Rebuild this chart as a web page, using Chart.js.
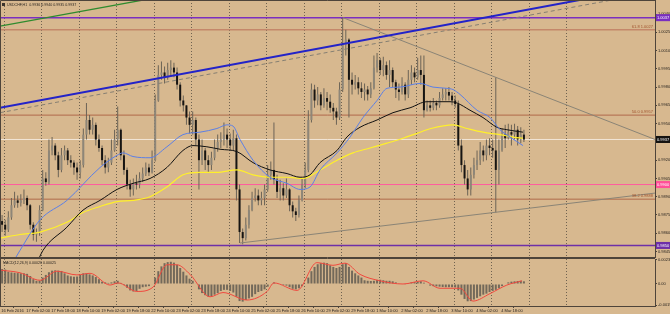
<!DOCTYPE html>
<html>
<head>
<meta charset="utf-8">
<title>USDCHF H1</title>
<script src="https://cdn.jsdelivr.net/npm/chart.js@4.4.1/dist/chart.umd.min.js"></script>
<style>
  html, body { margin: 0; padding: 0; background: #D7B88F; }
  #wrap { position: relative; width: 670px; height: 314px; overflow: hidden; }
  #wrap canvas { position: absolute; left: 0; }
  #priceChart { top: 0; }
  #macdChart { top: 256px; }
</style>
</head>
<body>
<div id="wrap">
  <canvas id="priceChart" width="670" height="258"></canvas>
  <canvas id="macdChart" width="670" height="58"></canvas>
</div>
<script>
// ---- values ----
// x unit = H1 bar index (0 = 16 Feb 10:00); each candle below covers two H1 bars
const firstOpen = 0.9870;
const barHours = 2;

const closes = [
  0.9867,0.9863,0.9873,0.9883,0.9887,0.9885,0.9887,0.9889,0.9883,0.9867,
  0.9859,0.9861,0.9879,0.9905,0.9902,0.9928,0.9932,0.9924,0.9912,0.9924,
  0.9928,0.9920,0.9918,0.9914,0.9910,0.9916,0.9941,0.9953,0.9945,0.9949,
  0.9937,0.9930,0.9920,0.9914,0.9918,0.9928,0.9937,0.9945,0.9924,0.9912,
  0.9900,0.9896,0.9901,0.9900,0.9905,0.9909,0.9914,0.9910,0.9920,0.9969,
  0.9990,0.9992,0.9988,0.9994,0.9996,0.9992,0.9982,0.9969,0.9965,0.9955,
  0.9949,0.9953,0.9937,0.9920,0.9928,0.9920,0.9916,0.9922,0.9930,0.9935,
  0.9937,0.9941,0.9937,0.9932,0.9938,0.9896,0.9861,0.9856,0.9867,0.9879,
  0.9889,0.9891,0.9887,0.9889,0.9896,0.9908,0.9912,0.9904,0.9894,0.9897,
  0.9891,0.9896,0.9883,0.9878,0.9875,0.9887,0.9900,0.9912,0.9953,0.9978,
  0.9969,0.9974,0.9965,0.9971,0.9968,0.9963,0.9960,0.9955,0.9978,1.0015,
  1.0019,0.9986,0.9982,0.9984,0.9979,0.9976,0.9978,0.9974,0.9979,0.9996,
  1.0002,0.9994,0.9998,0.9990,0.9994,0.9984,0.9978,0.9976,0.9982,0.9974,
  0.9986,0.9992,0.9988,0.9994,0.9990,0.9961,0.9965,0.9963,0.9967,0.9965,
  0.9971,0.9974,0.9976,0.9973,0.9969,0.9966,0.9932,0.9916,0.9905,0.9896,
  0.9908,0.9916,0.9920,0.9928,0.9924,0.9932,0.9930,0.9928,0.9912,0.9928,
  0.9941,0.9938,0.9943,0.9941,0.9945,0.9937,0.9941,0.9937
];
const highs = [
  0.9875,0.9871,0.9878,0.9889,0.9894,0.9891,0.9892,0.9896,0.9891,0.9884,
  0.9869,0.9864,0.9883,0.9912,0.9910,0.9937,0.9939,0.9934,0.9927,0.9930,
  0.9932,0.9930,0.9924,0.9920,0.9918,0.9920,0.9946,0.9967,0.9957,0.9955,
  0.9951,0.9941,0.9932,0.9924,0.9922,0.9937,0.9945,0.9964,0.9946,0.9928,
  0.9914,0.9904,0.9905,0.9908,0.9910,0.9914,0.9918,0.9917,0.9928,0.9974,
  0.9998,1.0001,0.9997,1.0000,1.0002,1.0000,0.9996,0.9984,0.9973,0.9965,
  0.9960,0.9960,0.9955,0.9941,0.9937,0.9930,0.9924,0.9927,0.9937,0.9941,
  0.9943,0.9951,0.9946,0.9942,0.9945,0.9941,0.9900,0.9864,0.9873,0.9883,
  0.9894,0.9897,0.9896,0.9894,0.9900,0.9916,0.9919,0.9951,0.9908,0.9904,
  0.9901,0.9905,0.9897,0.9886,0.9881,0.9891,0.9905,0.9918,0.9961,0.9983,
  0.9982,0.9980,0.9976,0.9979,0.9976,0.9974,0.9967,0.9963,0.9984,1.0037,
  1.0027,1.0020,0.9992,0.9990,0.9988,0.9984,0.9983,0.9981,0.9984,1.0006,
  1.0008,1.0004,1.0005,1.0001,1.0002,0.9996,0.9986,0.9983,0.9988,0.9984,
  0.9994,0.9998,0.9996,1.0004,1.0006,1.0006,0.9969,0.9969,0.9971,0.9969,
  0.9976,0.9979,0.9979,0.9980,0.9976,0.9973,0.9969,0.9937,0.9920,0.9912,
  0.9914,0.9922,0.9928,0.9935,0.9932,0.9937,0.9938,0.9937,0.9988,0.9937,
  0.9946,0.9949,0.9950,0.9949,0.9950,0.9948,0.9947,0.9945
];
const lows = [
  0.9861,0.9858,0.9861,0.9871,0.9881,0.9881,0.9882,0.9884,0.9879,0.9863,
  0.9854,0.9853,0.9858,0.9878,0.9899,0.9900,0.9924,0.9920,0.9906,0.9910,
  0.9920,0.9916,0.9914,0.9908,0.9904,0.9905,0.9914,0.9937,0.9941,0.9941,
  0.9932,0.9927,0.9916,0.9909,0.9910,0.9916,0.9927,0.9932,0.9920,0.9908,
  0.9896,0.9890,0.9891,0.9896,0.9897,0.9902,0.9907,0.9907,0.9909,0.9919,
  0.9968,0.9986,0.9983,0.9986,0.9989,0.9988,0.9978,0.9964,0.9960,0.9949,
  0.9942,0.9941,0.9932,0.9896,0.9916,0.9912,0.9910,0.9912,0.9920,0.9927,
  0.9930,0.9932,0.9930,0.9928,0.9928,0.9887,0.9852,0.9851,0.9854,0.9864,
  0.9878,0.9886,0.9883,0.9883,0.9883,0.9894,0.9904,0.9900,0.9889,0.9887,
  0.9887,0.9889,0.9878,0.9873,0.9870,0.9873,0.9886,0.9897,0.9910,0.9951,
  0.9963,0.9965,0.9961,0.9963,0.9961,0.9959,0.9953,0.9949,0.9953,0.9976,
  1.0006,0.9955,0.9974,0.9978,0.9974,0.9971,0.9969,0.9969,0.9971,0.9978,
  0.9992,0.9990,0.9989,0.9986,0.9980,0.9980,0.9971,0.9969,0.9974,0.9969,
  0.9971,0.9982,0.9984,0.9986,0.9982,0.9955,0.9960,0.9960,0.9961,0.9961,
  0.9963,0.9969,0.9969,0.9969,0.9965,0.9963,0.9928,0.9910,0.9900,0.9891,
  0.9891,0.9905,0.9912,0.9916,0.9919,0.9920,0.9924,0.9922,0.9877,0.9900,
  0.9927,0.9930,0.9937,0.9932,0.9937,0.9932,0.9934,0.9935
];

// moving averages, [bar, price]
const maBlue = [[5.6,0.9832],[12,0.9846],[24.8,0.9871],[42,0.9887],[63.2,0.9914],[74.1,0.9924],[77.9,0.9926],[84.3,0.9923],[95.2,0.9922],[106,0.9931],[116.3,0.9941],[127.2,0.9943],[138,0.9946],[144.4,0.9949],[148.3,0.9948],[152.8,0.9937],[161.1,0.9920],[172,0.9906],[182.9,0.9901],[191.2,0.9896],[197.6,0.9898],[204,0.9912],[214.9,0.9926],[223.2,0.9939],[231.5,0.9955],[240.5,0.9969],[246.9,0.9979],[255.2,0.9980],[268,0.9983],[276.3,0.9980],[285.2,0.9979],[289.1,0.9978],[293.6,0.9974],[304.5,0.9961],[312.8,0.9955],[319.2,0.9945],[325.6,0.9939],[333.9,0.9932]];
const maBlack = [[21.6,0.9832],[26.7,0.9846],[42,0.9865],[52.3,0.9879],[63.2,0.9887],[74.1,0.9896],[84.3,0.9901],[95.2,0.9905],[106,0.9914],[116.3,0.9928],[122.7,0.9932],[131.6,0.9931],[140,0.9929],[150.9,0.9927],[161.1,0.9918],[172,0.9912],[182.9,0.9909],[191.2,0.9906],[197.6,0.9908],[204,0.9918],[214.9,0.9928],[221.2,0.9939],[229.6,0.9947],[240.5,0.9953],[250.7,0.9959],[261.6,0.9963],[272.4,0.9968],[287.2,0.9968],[291.6,0.9967],[300,0.9961],[308.3,0.9955],[317.2,0.9947],[323.6,0.9945],[333.9,0.9943]];
const maYellow = [[-0.8,0.9856],[12,0.9859],[24.8,0.9861],[42,0.9869],[52.3,0.9877],[63.2,0.9882],[74.1,0.9886],[84.3,0.9887],[95.2,0.9890],[106,0.9898],[116.3,0.9908],[127.2,0.9910],[138,0.9910],[150.9,0.9912],[161.1,0.9908],[172,0.9906],[182.9,0.9906],[193.1,0.9905],[204,0.9912],[214.9,0.9920],[225.1,0.9926],[236,0.9930],[246.9,0.9934],[257.1,0.9938],[266,0.9942],[275,0.9946],[289.1,0.9949],[298.1,0.9946],[308.3,0.9943],[319.2,0.9941],[327.5,0.9939],[333.9,0.9938]];

// horizontal objects
const levelPrices = [1.0037, 1.0027, 0.9957, 0.9937, 0.9900, 0.9888, 0.9850];
const fibNames = ["", "61.8", "50.0", "", "", "38.2", ""];

// trend lines, [bar, price] end points
const trendBlue = [[-0.83, 0.9963], [418.4, 1.0063]];
const trendDashed = [[-0.83, 0.9959], [418.4, 1.0058]];
const trendGreen = [[-0.83, 1.0030], [127.2, 1.0060]];
const trendUpper = [[218.7, 1.0037], [418.4, 0.9937]];
const trendLower = [[152.8, 0.9852], [418.4, 0.9893]];

const priceTicks = [1.0040, 1.0025, 1.0010, 0.9995, 0.9980, 0.9965, 0.9950, 0.9935, 0.9920, 0.9905, 0.9890, 0.9875, 0.9860, 0.9845];

const timeLabels = ["16 Feb 2016", "17 Feb 02:00", "17 Feb 18:00", "18 Feb 10:00", "19 Feb 02:00", "19 Feb 18:00",
  "22 Feb 10:00", "23 Feb 02:00", "23 Feb 18:00", "24 Feb 10:00", "25 Feb 02:00", "25 Feb 18:00",
  "26 Feb 10:00", "29 Feb 02:00", "29 Feb 18:00", "1 Mar 10:00", "2 Mar 02:00", "2 Mar 18:00",
  "3 Mar 10:00", "4 Mar 02:00", "4 Mar 18:00"];
const labelStep = 16;
const dayStarts = [14, 38, 62, 86, 110, 134, 158, 182, 206, 230, 254, 278, 302, 326, 350];

// MACD(12,26,9), one value per candle above
const macdHist = [
  0.00140,0.00135,0.00115,0.00108,0.00105,0.00102,0.00100,0.00100,0.00095,0.00075,
  0.00045,0.00030,0.00032,0.00060,0.00085,0.00110,0.00125,0.00128,0.00125,0.00122,
  0.00100,0.00080,0.00072,0.00068,0.00070,0.00085,0.00100,0.00100,0.00090,0.00080,
  0.00065,0.00045,0.00022,0.00015,0.00010,0.00015,0.00025,0.00030,0.00010,-0.00010,
  -0.00035,-0.00060,-0.00070,-0.00065,-0.00045,-0.00030,-0.00025,-0.00020,-0.00005,0.00060,
  0.00120,0.00165,0.00195,0.00205,0.00208,0.00200,0.00180,0.00150,0.00115,0.00080,
  0.00050,0.00030,0.00005,-0.00050,-0.00085,-0.00105,-0.00118,-0.00115,-0.00100,-0.00085,
  -0.00065,-0.00055,-0.00055,-0.00065,-0.00080,-0.00120,-0.00160,-0.00165,-0.00150,-0.00135,
  -0.00120,-0.00095,-0.00075,-0.00065,-0.00050,-0.00025,-0.00005,0.00015,0.00005,-0.00005,
  -0.00010,-0.00015,-0.00030,-0.00045,-0.00050,-0.00040,-0.00020,0.00005,0.00060,0.00120,
  0.00160,0.00185,0.00195,0.00200,0.00195,0.00175,0.00160,0.00150,0.00160,0.00185,
  0.00195,0.00160,0.00125,0.00100,0.00080,0.00060,0.00035,0.00030,0.00028,0.00030,
  0.00038,0.00040,0.00035,0.00030,0.00030,0.00025,0.00015,0.00005,0.00000,-0.00003,
  0.00008,0.00015,0.00018,0.00022,0.00025,0.00012,-0.00005,-0.00015,-0.00020,-0.00022,
  -0.00025,-0.00028,-0.00030,-0.00030,-0.00030,-0.00032,-0.00060,-0.00100,-0.00140,-0.00162,
  -0.00160,-0.00145,-0.00130,-0.00115,-0.00100,-0.00090,-0.00075,-0.00065,-0.00055,-0.00040,
  -0.00020,0.00005,0.00015,0.00022,0.00025,0.00028,0.00030,0.00025
];
const macdSignal = [[-0.8,0.00130],[12,0.00105],[24.8,0.00035],[35.6,0.00120],[48.4,0.00085],[56.8,0.00100],[69.6,-0.00010],[74.7,0.00010],[86.8,-0.00070],[97.1,-0.00030],[106,0.00180],[112.4,0.00180],[120.8,0.00090],[133.6,-0.00120],[141.9,-0.00080],[157.2,-0.00150],[170.1,-0.00070],[174.5,0.00010],[189.3,-0.00060],[202,0.00200],[212.3,0.00175],[220,0.00195],[229.6,0.00090],[242.4,0.00030],[257.1,0.00000],[269.9,0.00030],[280.8,-0.00040],[293.6,-0.00040],[301.9,-0.00160],[312.8,-0.00090],[323.6,-0.00010],[333.3,0.00030]];
const macdTicks = [0.0023, 0, -0.00199];
const macdTickLabels = ["0.00230", "0.00", "-0.00199"];

document.addEventListener("DOMContentLoaded", function () {
    const xMin = -0.83, xMax = 418.4;
    const priceMin = 0.98397, priceMax = 1.00515;
    const macdMin = -0.00206, macdMax = 0.00234;

    const textColor = "#2a2520";
    const frameColor = "#4e443a";
    const gridColor = "#6f6250";
    const smallFont = { family: "Liberation Sans, Arial, sans-serif", size: 4 };

    Chart.defaults.font.family = smallFont.family;

    const toPoints = arr => arr.map(p => ({ x: p[0], y: p[1] }));
    const barX = i => i * barHours + 0.5;
    const opens = closes.map((c, i) => (i === 0 ? firstOpen : closes[i - 1]));

    const lineSet = (pts, color, width, order, extra) => Object.assign({
        type: "line",
        data: toPoints(pts),
        borderColor: color,
        borderWidth: width,
        pointRadius: 0,
        order: order
    }, extra || {});

    // Horizontal levels
    const levelColors = ["#7A2FC0", "#C4876A", "#B0694A", "#F2E6D6", "#FF5A9E", "#B0694A", "#6E2FA8"];
    const levelWidths = [1.5, 1.5, 1, 1, 1, 1, 1.5];
    const levelSets = levelPrices.map((v, i) =>
        lineSet([[xMin, v], [xMax, v]], levelColors[i], levelWidths[i], 50));

    const hideAxisPadding = s => { s.paddingLeft = 0; s.paddingRight = 0; s.paddingTop = 0; s.paddingBottom = 0; };

    // Right-side labels, fib texts, frame, header
    const priceDecor = {
        id: "priceDecor",
        afterDraw(chart) {
            const { ctx, chartArea: a } = chart;
            const y = chart.scales.y;
            ctx.save();
            ctx.strokeStyle = frameColor;
            ctx.lineWidth = 1;
            ctx.beginPath();
            ctx.moveTo(a.left + 0.5, a.bottom);
            ctx.lineTo(a.left + 0.5, a.top + 0.5);
            ctx.lineTo(a.right, a.top + 0.5);
            ctx.moveTo(a.left, a.bottom - 0.5);
            ctx.lineTo(a.right, a.bottom - 0.5);
            ctx.stroke();

            ctx.font = "4px " + smallFont.family;
            ctx.textAlign = "right";
            ctx.textBaseline = "bottom";
            ctx.fillStyle = "#A0522D";
            levelPrices.forEach((v, i) => {
                if (!fibNames[i]) return;
                ctx.fillText(fibNames[i] + " " + v.toFixed(4), a.right - 2, y.getPixelForValue(v) - 1);
            });

            const boxes = [[0, "#7A2FC0"], [3, "#141210"], [4, "#FF4F98"], [6, "#6E2FA8"]];
            ctx.textAlign = "left";
            ctx.textBaseline = "middle";
            boxes.forEach(([i, col]) => {
                const py = y.getPixelForValue(levelPrices[i]);
                ctx.fillStyle = col;
                ctx.fillRect(a.right + 1, py - 3.5, 14, 7);
                ctx.fillStyle = "#ffffff";
                ctx.fillText(levelPrices[i].toFixed(4), a.right + 2, py);
            });

            ctx.fillStyle = "#3b342d";
            ctx.fillRect(2, 3, 3, 3);
            ctx.fillStyle = textColor;
            ctx.font = "3.6px " + smallFont.family;
            ctx.fillText("USDCHF,H1  0.9936 0.9940 0.9935 0.9937", 7, 4.8);
            ctx.restore();
        }
    };

    new Chart(document.getElementById("priceChart").getContext("2d"), {
        type: "bar",
        data: {
            datasets: [
                ...levelSets,
                {
                    type: "bar", order: 40, grouped: false, barThickness: 1, inflateAmount: 0,
                    data: highs.map((h, i) => ({ x: barX(i), y: [lows[i], h] })),
                    backgroundColor: "#6b6356"
                },
                {
                    type: "bar", order: 39, grouped: false, barThickness: 2, minBarLength: 1, inflateAmount: 0,
                    data: closes.map((c, i) => ({ x: barX(i), y: [opens[i], c] })),
                    backgroundColor: closes.map((c, i) => (c >= opens[i] ? "#8e8678" : "#161412"))
                },
                lineSet(maYellow, "#FFF02A", 1.2, 32, { cubicInterpolationMode: "monotone" }),
                lineSet(maBlack, "#111111", 1, 31, { cubicInterpolationMode: "monotone" }),
                lineSet(maBlue, "#5B7FE6", 1, 30, { cubicInterpolationMode: "monotone" }),
                lineSet(trendLower, "#8a8476", 1, 20),
                lineSet(trendUpper, "#8a8476", 1, 20),
                lineSet(trendDashed, "#857f72", 1, 20, { borderDash: [4, 3] }),
                lineSet(trendGreen, "#2E8B2E", 1.3, 20),
                lineSet(trendBlue, "#2323C8", 2, 19)
            ]
        },
        options: {
            responsive: false,
            animation: false,
            devicePixelRatio: 1,
            events: [],
            layout: { padding: 0, autoPadding: false },
            plugins: { legend: { display: false }, tooltip: { enabled: false } },
            scales: {
                x: {
                    type: "linear", min: xMin, max: xMax, offset: false, position: "bottom",
                    afterBuildTicks: s => { s.ticks = dayStarts.map(v => ({ value: v })); },
                    afterFit: s => { s.height = 0; hideAxisPadding(s); },
                    ticks: { display: false, autoSkip: false },
                    grid: { color: gridColor, drawTicks: false, lineWidth: 1 },
                    border: { display: false, dash: [1, 2] }
                },
                y: {
                    position: "right", min: priceMin, max: priceMax,
                    afterBuildTicks: s => { s.ticks = priceTicks.map(v => ({ value: v })); },
                    afterFit: s => { s.width = 15; hideAxisPadding(s); },
                    ticks: { font: smallFont, color: textColor, padding: 1, autoSkip: false,
                        callback: v => v.toFixed(4) },
                    grid: { drawOnChartArea: false, tickLength: 2, color: frameColor },
                    border: { color: frameColor }
                }
            }
        },
        plugins: [priceDecor]
    });

    // MACD panel
    const macdDecor = {
        id: "macdDecor",
        afterDraw(chart) {
            const { ctx, chartArea: a } = chart;
            ctx.save();
            ctx.strokeStyle = frameColor;
            ctx.lineWidth = 1;
            ctx.beginPath();
            ctx.moveTo(a.left, a.top - 0.5);
            ctx.lineTo(a.right, a.top - 0.5);
            ctx.moveTo(a.left + 0.5, a.top);
            ctx.lineTo(a.left + 0.5, a.bottom);
            ctx.stroke();
            ctx.fillStyle = textColor;
            ctx.font = "3.6px " + smallFont.family;
            ctx.textBaseline = "middle";
            ctx.fillText("MACD(12,26,9) 0.00026 0.00025", 3, a.top + 4);
            ctx.restore();
        }
    };

    new Chart(document.getElementById("macdChart").getContext("2d"), {
        type: "bar",
        data: {
            datasets: [
                lineSet(macdSignal, "#F0483E", 1, 1, { cubicInterpolationMode: "monotone" }),
                {
                    type: "bar", order: 2, grouped: false, barThickness: 2, inflateAmount: 0,
                    data: macdHist.map((v, i) => ({ x: barX(i), y: v })),
                    backgroundColor: "#73695a"
                }
            ]
        },
        options: {
            responsive: false,
            animation: false,
            devicePixelRatio: 1,
            events: [],
            layout: { padding: { top: 3, left: 0, right: 0, bottom: 0 }, autoPadding: false },
            plugins: { legend: { display: false }, tooltip: { enabled: false } },
            scales: {
                x: {
                    type: "linear", min: xMin, max: xMax, offset: false, position: "bottom",
                    afterBuildTicks: s => { s.ticks = timeLabels.map((t, i) => ({ value: i * labelStep })); },
                    afterFit: s => { s.height = 8; hideAxisPadding(s); },
                    ticks: { font: smallFont, color: textColor, align: "start", padding: 0.5,
                        autoSkip: false, maxRotation: 0, minRotation: 0,
                        callback: (v, i) => timeLabels[i] },
                    grid: { drawOnChartArea: false, tickLength: 2, color: frameColor },
                    border: { color: frameColor }
                },
                xg: {
                    type: "linear", min: xMin, max: xMax, offset: false, position: "bottom",
                    afterBuildTicks: s => { s.ticks = dayStarts.map(v => ({ value: v })); },
                    afterFit: s => { s.height = 0; hideAxisPadding(s); },
                    ticks: { display: false, autoSkip: false },
                    grid: { color: gridColor, drawTicks: false },
                    border: { display: false, dash: [1, 2] }
                },
                y: {
                    position: "right", min: macdMin, max: macdMax,
                    afterBuildTicks: s => { s.ticks = macdTicks.map(v => ({ value: v })); },
                    afterFit: s => { s.width = 15; hideAxisPadding(s); },
                    ticks: { font: smallFont, color: textColor, padding: 1, autoSkip: false,
                        callback: (v, i) => macdTickLabels[i] },
                    grid: { drawOnChartArea: false, tickLength: 2, color: frameColor },
                    border: { color: frameColor }
                }
            }
        },
        plugins: [macdDecor]
    });
});
</script>
</body>
</html>
